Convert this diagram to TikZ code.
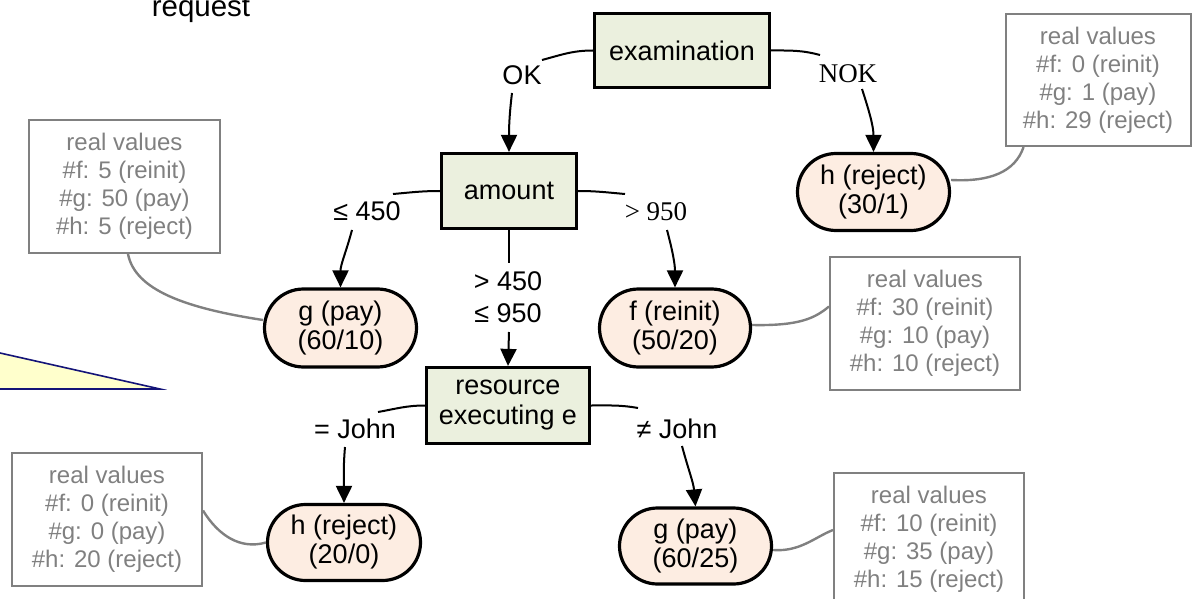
\documentclass[tikz,border=0pt]{standalone}
\usepackage{fontspec}
\setmainfont{Liberation Sans}
\newfontfamily\serifrm{Liberation Serif}
\usetikzlibrary{arrows.meta,shapes.misc}
\definecolor{decfill}{RGB}{235,240,222}
\definecolor{leaffill}{RGB}{253,237,226}
\definecolor{realgray}{RGB}{128,128,128}
\definecolor{notefill}{RGB}{255,255,204}
\definecolor{notedraw}{RGB}{20,20,120}
\newcommand\mainfnt{\fontsize{27}{29}\selectfont}
\newcommand\realfnt{\fontsize{24}{28}\selectfont}
\begin{document}
\begin{tikzpicture}[x=1pt,y=-1pt,
  decision/.style={draw=black, line width=3.2pt, fill=decfill, inner sep=0pt, align=center, font=\fontsize{27}{30}\selectfont},
  leaf/.style={rounded rectangle, draw=black, line width=3.2pt, fill=leaffill, inner sep=0pt, align=center, font=\mainfnt},
  real/.style={draw=realgray, line width=2pt, text=realgray, inner sep=0pt, align=center, font=\realfnt, minimum width=190pt, minimum height=133pt},
  lbl/.style={inner sep=0pt, align=center, font=\fontsize{27}{32}\selectfont},
  serlbl/.style={inner sep=0pt, font=\fontsize{27}{30}\serifrm},
  edgeline/.style={draw=black, line width=2pt},
  arrowline/.style={draw=black, line width=2pt, -{Triangle[length=17pt,width=16pt]}},
  gline/.style={draw=realgray, line width=2.4pt},
]
\useasboundingbox (0,0) rectangle (1192,599);
\clip (0,0) rectangle (1192,599);

% note triangle at left
\filldraw[fill=notefill, draw=notedraw, line width=1.6pt] (-20,348.5) -- (160,389) -- (-20,389) -- cycle;

% cut-off text at top
\node[anchor=base, font=\fontsize{29.5}{32}\selectfont, inner sep=0pt] (req) at (201,17) {request};

% decision nodes
\node[decision, minimum width=175pt, minimum height=74pt] (exam) at (682,50.5) {examination};
\node[decision, minimum width=135pt, minimum height=75pt] (amount) at (509,191) {amount};
\node[decision, minimum width=163pt, minimum height=76pt] (res) at (508,405.5) {resource\\executing e};

% leaves
\node[leaf, minimum width=152pt, minimum height=77pt] (hrej1) at (873.5,192) {h (reject)\\(30/1)};
\node[leaf, minimum width=152pt, minimum height=78pt] (gpay1) at (340.5,328) {g (pay)\\(60/10)};
\node[leaf, minimum width=151pt, minimum height=78pt] (freinit) at (675,328) {f (reinit)\\(50/20)};
\node[leaf, minimum width=153pt, minimum height=76pt] (hrej2) at (344,542.5) {h (reject)\\(20/0)};
\node[leaf, minimum width=152pt, minimum height=76pt] (gpay2) at (695.5,546) {g (pay)\\(60/25)};

% real value boxes
\node[real, minimum width=185pt, minimum height=132pt] (r1) at (1098,80) {real values\\\#f: 0 (reinit)\\\#g: 1 (pay)\\\#h: 29 (reject)};
\node[real, minimum width=191pt] (r2) at (124.5,186.5) {real values\\\#f: 5 (reinit)\\\#g: 50 (pay)\\\#h: 5 (reject)};
\node[real] (r3) at (925,323.5) {real values\\\#f: 30 (reinit)\\\#g: 10 (pay)\\\#h: 10 (reject)};
\node[real] (r4) at (107,519.5) {real values\\\#f: 0 (reinit)\\\#g: 0 (pay)\\\#h: 20 (reject)};
\node[real, minimum height=132pt] (r5) at (929,539) {real values\\\#f: 10 (reinit)\\\#g: 35 (pay)\\\#h: 15 (reject)};

% edge labels
\node[lbl] (lok) at (522,75) {OK};
\node[serlbl] (lnok) at (848,74) {NOK};
\node[lbl] (lle) at (367,211) {≤ 450};
\node[serlbl] (lgt) at (656,212) {> 950};
\node[lbl] (lmid) at (508,297) {> 450\\≤ 950};
\node[lbl] (leq) at (355,429) {= John};
\node[lbl] (lne) at (677,429) {≠ John};

% label-gap coordinates
\coordinate (ok1) at (542,60);   \coordinate (ok2) at (512,93);
\coordinate (nok1) at (820,55);  \coordinate (nok2) at (862,89);
\coordinate (le1) at (393,194);  \coordinate (le2) at (352,230);
\coordinate (gt1) at (625,194);  \coordinate (gt2) at (667,230);
\coordinate (mid1) at (509,263); \coordinate (mid2) at (509,332);
\coordinate (eq1) at (378,412);  \coordinate (eq2) at (345,447);
\coordinate (ne1) at (638,408);  \coordinate (ne2) at (682,446);

% edges
\draw[edgeline] (exam.west) to[out=180,in=15] (ok1);
\draw[arrowline] (ok2) to[out=-97,in=90] (amount.north);
\draw[edgeline] (exam.east) to[out=0,in=165] (nok1);
\draw[arrowline] (nok2) to[out=-72,in=90] (hrej1.north);
\draw[edgeline] (amount.west) to[out=180,in=5] (le1);
\draw[arrowline] (le2) to[out=-105,in=90] (gpay1.north);
\draw[edgeline] (amount.east) to[out=0,in=175] (gt1);
\draw[arrowline] (gt2) to[out=-75,in=90] (freinit.north);
\draw[edgeline] (amount.south) -- (mid1);
\draw[arrowline] (mid2) -- (res.north);
\draw[edgeline] (res.west) to[out=180,in=10] (eq1);
\draw[arrowline] (eq2) to[out=-95,in=90] (hrej2.north);
\draw[edgeline] (res.east) to[out=0,in=170] (ne1);
\draw[arrowline] (ne2) to[out=-75,in=95] (gpay2.north);

% real-value connectors
\draw[gline] (r1.222) .. controls (1015,172) and (990,182) .. ([yshift=12pt]hrej1.east);
\draw[gline] ([xshift=3.5pt]r2.south) .. controls (135,290) and (185,308) .. ([yshift=8pt]gpay1.west);
\draw[gline] ([yshift=3pt]freinit.east) .. controls (800,326) and (815,318) .. ([yshift=17pt]r3.west);
\draw[gline] ([yshift=9pt]r4.east) .. controls (218,535) and (240,550) .. (hrej2.west);
\draw[gline] ([yshift=-4pt]gpay2.east) .. controls (800,552) and (815,537) .. ([yshift=9pt]r5.west);
\end{tikzpicture}
\end{document}
